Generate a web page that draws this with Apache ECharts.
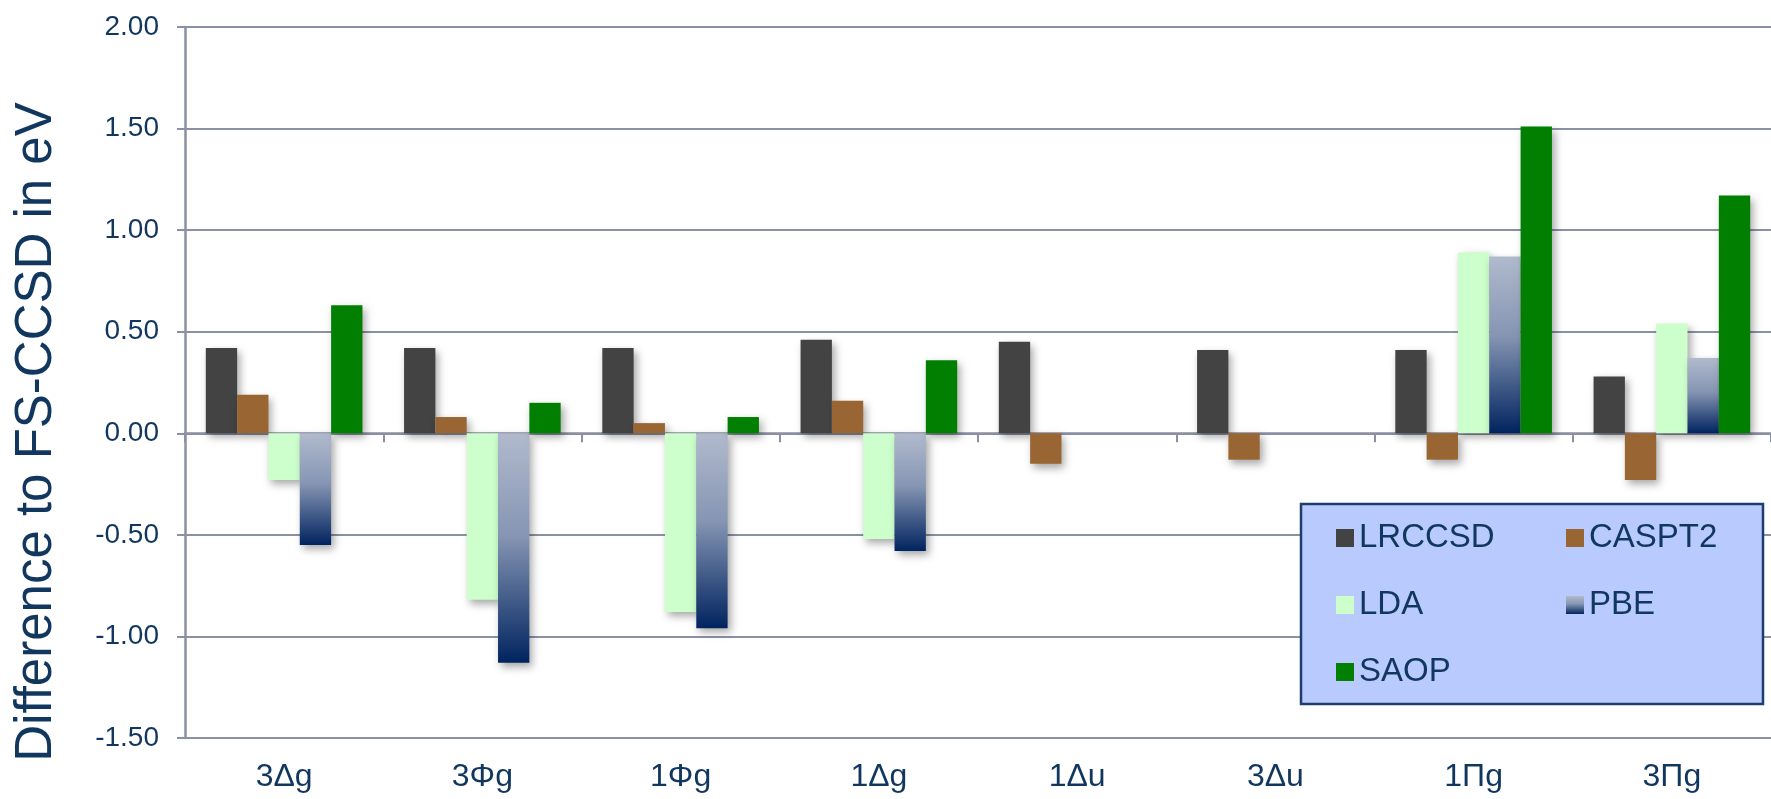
<!DOCTYPE html>
<html>
<head>
<meta charset="utf-8">
<script src="https://cdn.jsdelivr.net/npm/echarts@6/dist/echarts.min.js"></script>
<style>
  html, body { margin: 0; padding: 0; background: #ffffff; }
  #chart { width: 1771px; height: 799px; }
</style>
</head>
<body>
<div id="chart"></div>
<script>
// Excitation states
const categories = ['3Δg', '3Φg', '1Φg', '1Δg', '1Δu', '3Δu', '1Πg', '3Πg'];

// Deviation from FS-CCSD (eV) per method
const lrccsd = [0.42, 0.42, 0.42, 0.46, 0.45, 0.41, 0.41, 0.28];
const caspt2 = [0.19, 0.08, 0.05, 0.16, -0.15, -0.13, -0.13, -0.23];
const lda    = [-0.23, -0.82, -0.88, -0.52, null, null, 0.89, 0.54];
const pbe    = [-0.55, -1.13, -0.96, -0.58, null, null, 0.87, 0.37];
const saop   = [0.63, 0.15, 0.08, 0.36, null, null, 1.51, 1.17];

const yTicks = { min: -1.5, max: 2.0, interval: 0.5 };

const FONT = "'Liberation Sans', Arial, sans-serif";
const TEXT = '#12375f';
const GRID_LINE = '#8b90a3';

const barShadow = {
  shadowBlur: 8,
  shadowOffsetX: 3,
  shadowOffsetY: 4,
  shadowColor: 'rgba(0,0,0,0.35)'
};

const pbeGradient = new echarts.graphic.LinearGradient(0, 0, 0, 1, [
  { offset: 0, color: '#b1bacd' },
  { offset: 0.45, color: '#8595b3' },
  { offset: 1, color: '#00235f' }
]);

function makeSeries(name, data, color) {
  return {
    name: name,
    type: 'bar',
    xAxisIndex: 0,
    data: data,
    barGap: '0%',
    barCategoryGap: '21%',
    itemStyle: Object.assign({ color: color }, barShadow),
    emphasis: { disabled: true }
  };
}

const chart = echarts.init(document.getElementById('chart'));

const legendText = { fontFamily: FONT, fontSize: 33, color: TEXT, lineHeight: 34 };
const legendBase = {
  orient: 'vertical',
  top: 521,
  padding: 0,
  itemWidth: 18,
  itemHeight: 18,
  itemGap: 33,
  icon: 'rect',
  textStyle: legendText,
  itemStyle: { shadowBlur: 0, shadowOffsetX: 0, shadowOffsetY: 0 },
  selectedMode: false,
  z: 10
};

chart.setOption({
  animation: false,
  backgroundColor: '#ffffff',
  grid: { left: 185, top: 27, width: 1601, height: 711, containLabel: false },
  xAxis: [
    {
      type: 'category',
      data: categories,
      position: 'bottom',
      axisLine: { show: false, onZero: false },
      axisTick: { show: false },
      axisLabel: { fontFamily: FONT, fontSize: 32, color: TEXT, margin: 23, interval: 0 },
      splitLine: { show: false }
    },
    {
      type: 'category',
      data: categories,
      position: 'bottom',
      axisLine: { show: true, onZero: true, lineStyle: { color: GRID_LINE, width: 2.5 } },
      axisTick: { show: true, length: 9, lineStyle: { color: GRID_LINE, width: 2 } },
      axisLabel: { show: false },
      splitLine: { show: false }
    }
  ],
  yAxis: {
    type: 'value',
    min: yTicks.min,
    max: yTicks.max,
    interval: yTicks.interval,
    axisLine: { show: true, lineStyle: { color: GRID_LINE, width: 2.5 } },
    axisTick: { show: true, length: 8, lineStyle: { color: GRID_LINE, width: 2 } },
    axisLabel: {
      fontFamily: FONT, fontSize: 28, color: TEXT, margin: 26,
      formatter: v => v.toFixed(2)
    },
    splitLine: { show: true, lineStyle: { color: GRID_LINE, width: 2 } }
  },
  legend: [
    Object.assign({ left: 1336, data: ['LRCCSD', 'LDA', 'SAOP'] }, legendBase),
    Object.assign({ left: 1566, data: ['CASPT2', 'PBE'] }, legendBase)
  ],
  graphic: [
    {
      type: 'rect',
      z: 5,
      shape: { x: 1301, y: 504, width: 462, height: 200 },
      style: { fill: '#b9cbfe', stroke: '#1c3d6d', lineWidth: 2.5 }
    },
    {
      type: 'text',
      z: 5,
      x: 37,
      y: 432,
      rotation: Math.PI / 2,
      style: {
        text: 'Difference to FS-CCSD in eV',
        fontFamily: FONT,
        fontSize: 51,
        fill: TEXT,
        textAlign: 'center',
        textVerticalAlign: 'middle'
      }
    }
  ],
  series: [
    makeSeries('LRCCSD', lrccsd, '#434343'),
    makeSeries('CASPT2', caspt2, '#996633'),
    makeSeries('LDA', lda, '#ccffcc'),
    makeSeries('PBE', pbe, pbeGradient),
    makeSeries('SAOP', saop, '#007f00')
  ]
});
</script>
</body>
</html>
